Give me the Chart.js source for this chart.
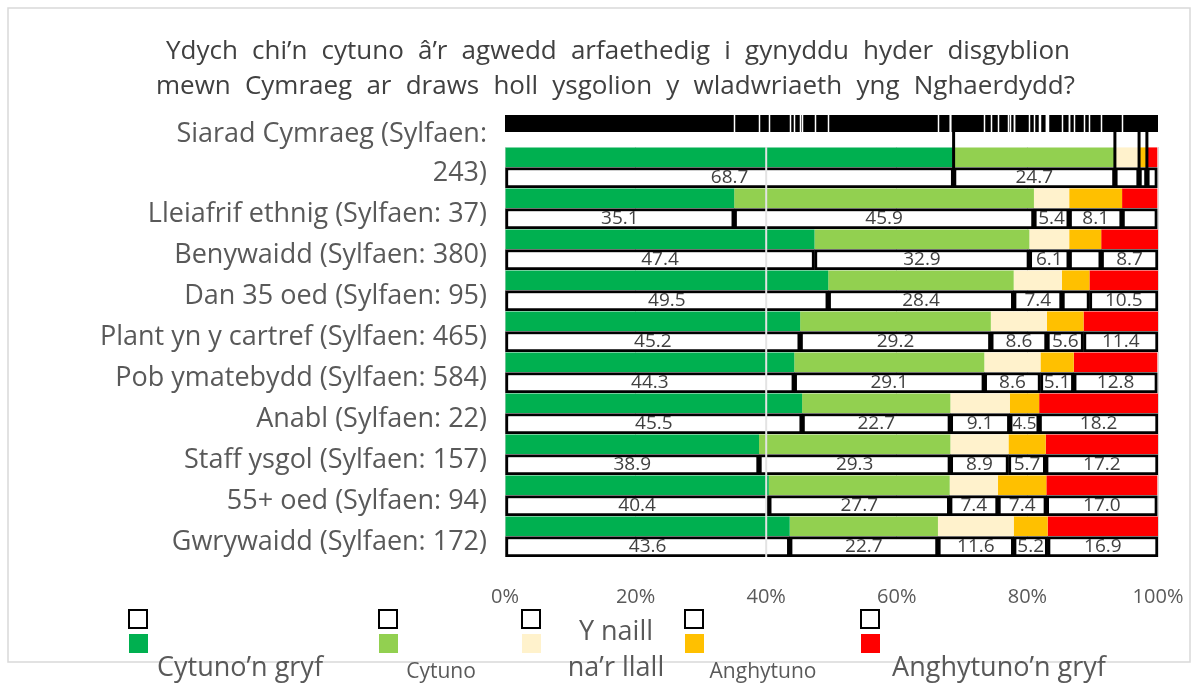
<!DOCTYPE html>
<html lang="cy">
<head>
<meta charset="UTF-8">
<title>Hyder disgyblion mewn Cymraeg</title>
<style>
    body { margin: 0; background: #fff; }
    #wrap { width: 1203px; height: 683px; }
</style>
</head>
<body>
<div id="wrap"><canvas id="chart" width="1203" height="683"></canvas></div>
<script src="https://cdn.jsdelivr.net/npm/chart.js"></script>
<script>
// categories, top to bottom (first one wraps in the original)
const categories = [
    ['Siarad Cymraeg (Sylfaen:', '243)', ''],
    'Lleiafrif ethnig (Sylfaen: 37)',
    'Benywaidd (Sylfaen: 380)',
    'Dan 35 oed (Sylfaen: 95)',
    'Plant yn y cartref (Sylfaen: 465)',
    'Pob ymatebydd (Sylfaen: 584)',
    'Anabl (Sylfaen: 22)',
    'Staff ysgol (Sylfaen: 157)',
    '55+ oed (Sylfaen: 94)',
    'Gwrywaidd (Sylfaen: 172)'
];
const cytunoGryf    = [68.7, 35.1, 47.4, 49.5, 45.2, 44.3, 45.5, 38.9, 40.4, 43.6];
const cytuno        = [24.7, 45.9, 32.9, 28.4, 29.2, 29.1, 22.7, 29.3, 27.7, 22.7];
const naill         = [3.7, 5.4, 6.1, 7.4, 8.6, 8.6, 9.1, 8.9, 7.4, 11.6];
const anghytuno     = [1.2, 8.1, 4.9, 4.2, 5.6, 5.1, 4.5, 5.7, 7.4, 5.2];
const anghytunoGryf = [1.6, 5.4, 8.7, 10.5, 11.4, 12.8, 18.2, 17.2, 17.0, 16.9];
const legendLines = [['Cytuno’n gryf'], ['Cytuno'], ['Y naill', 'na’r llall'], ['Anghytuno'], ['Anghytuno’n gryf']];
const colours = ['#00B050', '#92D050', '#FFF2CC', '#FFC000', '#FF0000'];
const xTicks = [0, 20, 40, 60, 80, 100];
// value labels that the original leaves out: [row, series]
const hiddenLabels = [[0, 2], [0, 3], [0, 4], [1, 4], [2, 3], [3, 3]];

const series = [cytunoGryf, cytuno, naill, anghytuno, anghytunoGryf];
const titleLines = [
    'Ydych chi’n cytuno â’r agwedd arfaethedig i gynyddu hyder disgyblion',
    'mewn Cymraeg ar draws holl ysgolion y wladwriaeth yng Nghaerdydd?'
];
const FONT = '"Open Sans", "Noto Sans", sans-serif';

const datasets = [];
series.forEach((vals, i) => {
    datasets.push({
        label: legendLines[i].join(' '),
        data: vals,
        stack: 'bars',
        backgroundColor: colours[i],
        borderWidth: 0,
        barPercentage: 0.96,
        categoryPercentage: 1
    });
});
series.forEach((vals, i) => {
    datasets.push({
        label: 'box ' + i,
        data: vals,
        stack: 'boxes',
        backgroundColor: '#fff',
        borderColor: '#000',
        borderWidth: 3,
        borderSkipped: false,
        barPercentage: 1,
        categoryPercentage: 1
    });
});

function justify(ctx, text, left, right, y) {
    const words = text.split(' ');
    const widths = words.map(w => ctx.measureText(w).width);
    const total = widths.reduce((a, b) => a + b, 0);
    const gap = (right - left - total) / (words.length - 1);
    let x = left;
    words.forEach((w, i) => {
        ctx.fillText(w, x, y);
        x += widths[i] + gap;
    });
}

const decor = {
    id: 'decor',
    beforeDraw(chart) {
        const ctx = chart.ctx;
        ctx.save();
        ctx.fillStyle = '#fff';
        ctx.fillRect(0, 0, chart.width, chart.height);
        ctx.strokeStyle = '#d9d9d9';
        ctx.lineWidth = 1.5;
        ctx.strokeRect(8, 8, 1182, 654);
        // title
        ctx.fillStyle = '#404040';
        ctx.font = '26px ' + FONT;
        ctx.textBaseline = 'middle';
        justify(ctx, titleLines[0], 166, 1070, 52);
        justify(ctx, titleLines[1], 156, 1075, 87);
        ctx.restore();
    },
    afterDatasetsDraw(chart) {
        const { ctx, chartArea, scales: { x } } = chart;
        ctx.save();
        // black band above the plot, with white breaks at every segment edge
        const bandTop = chartArea.top - 32, bandBot = chartArea.top - 15;
        ctx.fillStyle = '#000';
        ctx.fillRect(x.getPixelForValue(0), bandTop, x.getPixelForValue(100) - x.getPixelForValue(0), bandBot - bandTop);
        ctx.strokeStyle = '#fff';
        ctx.lineWidth = 1.5;
        for (let r = 1; r < categories.length; r++) {
            let acc = 0;
            for (let s = 0; s < series.length - 1; s++) {
                acc += series[s][r];
                const px = Math.round(x.getPixelForValue(acc)) + 0.5;
                ctx.beginPath();
                ctx.moveTo(px, bandTop);
                ctx.lineTo(px, bandBot);
                ctx.stroke();
            }
        }
        // first row's box edges run up to the band
        const firstBox = chart.getDatasetMeta(series.length).data[0];
        ctx.strokeStyle = '#000';
        ctx.lineWidth = 3;
        let acc = 0;
        for (let s = 0; s < series.length - 1; s++) {
            acc += series[s][0];
            const px = x.getPixelForValue(acc);
            ctx.beginPath();
            ctx.moveTo(px, bandBot);
            ctx.lineTo(px, firstBox.y + firstBox.height / 2);
            ctx.stroke();
        }
        // 40% gridline drawn over the bars
        const g = x.getPixelForValue(40);
        ctx.strokeStyle = '#e3e3e3';
        ctx.lineWidth = 2;
        ctx.beginPath();
        ctx.moveTo(g, chartArea.top);
        ctx.lineTo(g, chartArea.bottom);
        ctx.stroke();
        // value labels inside the white boxes
        ctx.fillStyle = '#404040';
        ctx.textAlign = 'center';
        ctx.textBaseline = 'middle';
        series.forEach((vals, s) => {
            const meta = chart.getDatasetMeta(series.length + s);
            meta.data.forEach((el, r) => {
                if (hiddenLabels.some(h => h[0] === r && h[1] === s)) return;
                const p = el.getProps(['x', 'base', 'y'], true);
                const txt = vals[r].toFixed(1);
                let size = 19;
                ctx.font = size + 'px ' + FONT;
                const room = Math.abs(p.x - p.base) - 5;
                while (ctx.measureText(txt).width > room && size > 11) {
                    size--;
                    ctx.font = size + 'px ' + FONT;
                }
                ctx.fillText(txt, (p.x + p.base) / 2, p.y);
            });
        });
        ctx.restore();
    },
    afterDraw(chart) {
        const ctx = chart.ctx;
        const spots = [
            { sq: 138, tx: 240, size: 27, ty: [668] },
            { sq: 388, tx: 441, size: 21, ty: [672] },
            { sq: 531, tx: 616, size: 27, ty: [632, 668] },
            { sq: 694, tx: 763, size: 21, ty: [672] },
            { sq: 870, tx: 999, size: 27, ty: [668] }
        ];
        ctx.save();
        spots.forEach((sp, i) => {
            ctx.strokeStyle = '#000';
            ctx.lineWidth = 2;
            ctx.strokeRect(sp.sq - 9, 610, 18, 18);
            ctx.fillStyle = colours[i];
            ctx.fillRect(sp.sq - 9, 634, 19, 19);
            ctx.fillStyle = '#595959';
            ctx.font = sp.size + 'px ' + FONT;
            ctx.textAlign = 'center';
            ctx.textBaseline = 'middle';
            legendLines[i].forEach((line, k) => ctx.fillText(line, sp.tx, sp.ty[k]));
        });
        ctx.restore();
    }
};

new Chart(document.getElementById('chart'), {
    type: 'bar',
    data: { labels: categories, datasets: datasets },
    options: {
        indexAxis: 'y',
        responsive: false,
        animation: false,
        layout: { padding: { left: 0, right: 45, top: 147, bottom: 0 } },
        plugins: {
            legend: { display: false },
            title: { display: false },
            tooltip: { enabled: false }
        },
        scales: {
            x: {
                stacked: true,
                min: 0,
                max: 100,
                afterFit: s => {
                    s.height = 126;
                    s.paddingLeft = 0;
                    s.paddingRight = 0;
                },
                afterBuildTicks: s => { s.ticks = xTicks.map(v => ({ value: v })); },
                grid: { color: '#d9d9d9', drawTicks: false },
                border: { display: false },
                ticks: {
                    padding: 28,
                    color: '#595959',
                    font: { family: FONT, size: 20 },
                    callback: v => v + '%'
                }
            },
            y: {
                afterFit: s => { s.width = 505; },
                grid: { display: false, drawTicks: false },
                border: { display: false },
                ticks: {
                    autoSkip: false,
                    padding: 18,
                    labelOffset: 6,
                    color: '#595959',
                    font: { family: FONT, size: 27, lineHeight: 1.45 }
                }
            }
        }
    },
    plugins: [decor]
});
</script>
</body>
</html>
